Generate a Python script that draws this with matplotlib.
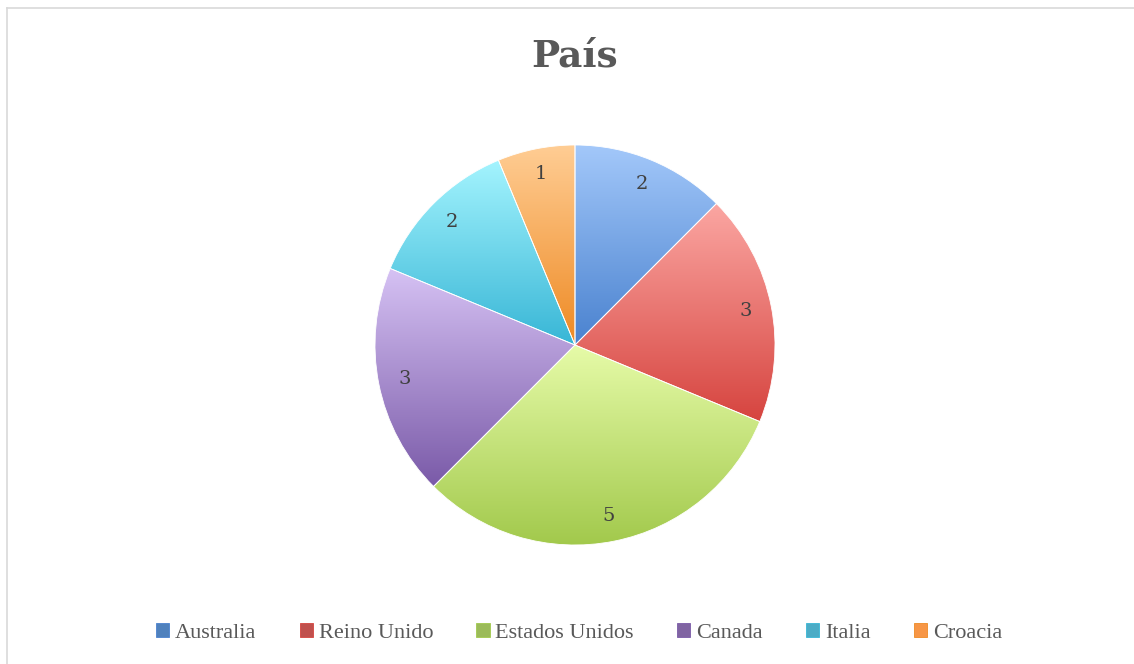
import numpy as np
import matplotlib.pyplot as plt
from matplotlib.colors import LinearSegmentedColormap
from matplotlib.patches import Patch
from matplotlib.lines import Line2D

# data
paises = ['Australia', 'Reino Unido', 'Estados Unidos', 'Canada', 'Italia', 'Croacia']
valores = [2, 3, 5, 3, 2, 1]

# gradient colours (top, bottom) per slice, plus a mid colour for the legend
tops = ['#a3c8fa', '#fba6a2', '#e6fba8', '#d6c2f4', '#a4f4fe', '#ffcd94']
bottoms = ['#4a82cf', '#d6443f', '#a2c94c', '#7a5aa8', '#38b6d6', '#ee8a24']
mids = ['#4f81bd', '#c0504d', '#9bbb59', '#8064a2', '#4bacc6', '#f79646']

W, H = 1134, 664
fig = plt.figure(figsize=(W / 100, H / 100), dpi=100)

cx, cy, r = 575, 345, 202
ax = fig.add_axes([(cx - r) / W, (H - cy - r) / H, 2 * r / W, 2 * r / H])
ax.axis('off')

wedges, texts, autotexts = ax.pie(
    valores, startangle=90, counterclock=False, radius=1,
    colors=mids, autopct=lambda p: '%d' % round(p * sum(valores) / 100),
    pctdistance=0.87,
    wedgeprops=dict(edgecolor='#ffffff', linewidth=0.6),
    textprops=dict(family='DejaVu Serif', fontsize=14, color='#404040'))

# vertical gradient inside each slice, light on top, darker below
grad = np.linspace(0, 1, 256).reshape(-1, 1)
for w, top, bot in zip(wedges, tops, bottoms):
    b = w.get_path().get_extents()
    cmap = LinearSegmentedColormap.from_list('g', [bot, top])
    im = ax.imshow(grad, cmap=cmap, origin='lower', aspect='auto',
                   extent=[b.x0, b.x1, b.y0, b.y1], zorder=1.5)
    im.set_clip_path(w)
for w in wedges:
    w.set_zorder(2)
    w.set_facecolor('none')
for t in autotexts:
    t.set_zorder(3)
ax.set_xlim(-1.01, 1.01)
ax.set_ylim(-1.01, 1.01)
ax.set_aspect('equal')

fig.text(575 / W, 1 - 56 / H, 'País', ha='center', va='center',
         family='DejaVu Serif', fontweight='bold', fontsize=27, color='#595959')

handles = [Patch(facecolor=m, edgecolor=b, linewidth=0.6) for m, b in zip(mids, bottoms)]
fig.legend(handles, paises, loc='center', bbox_to_anchor=(579 / W, 1 - 633 / H),
           ncol=6, frameon=False, handlelength=0.6, handleheight=0.6,
           handletextpad=0.25, columnspacing=1.95,
           prop=dict(family='Liberation Serif', size=16), labelcolor='#595959')

# chart frame lines (top and left)
fig.add_artist(Line2D([7 / W, 1], [1 - 8 / H, 1 - 8 / H], color='#d9d9d9', lw=1.2))
fig.add_artist(Line2D([7 / W, 7 / W], [0, 1 - 8 / H], color='#d9d9d9', lw=1.2))

fig.savefig('out.png', dpi=100)
